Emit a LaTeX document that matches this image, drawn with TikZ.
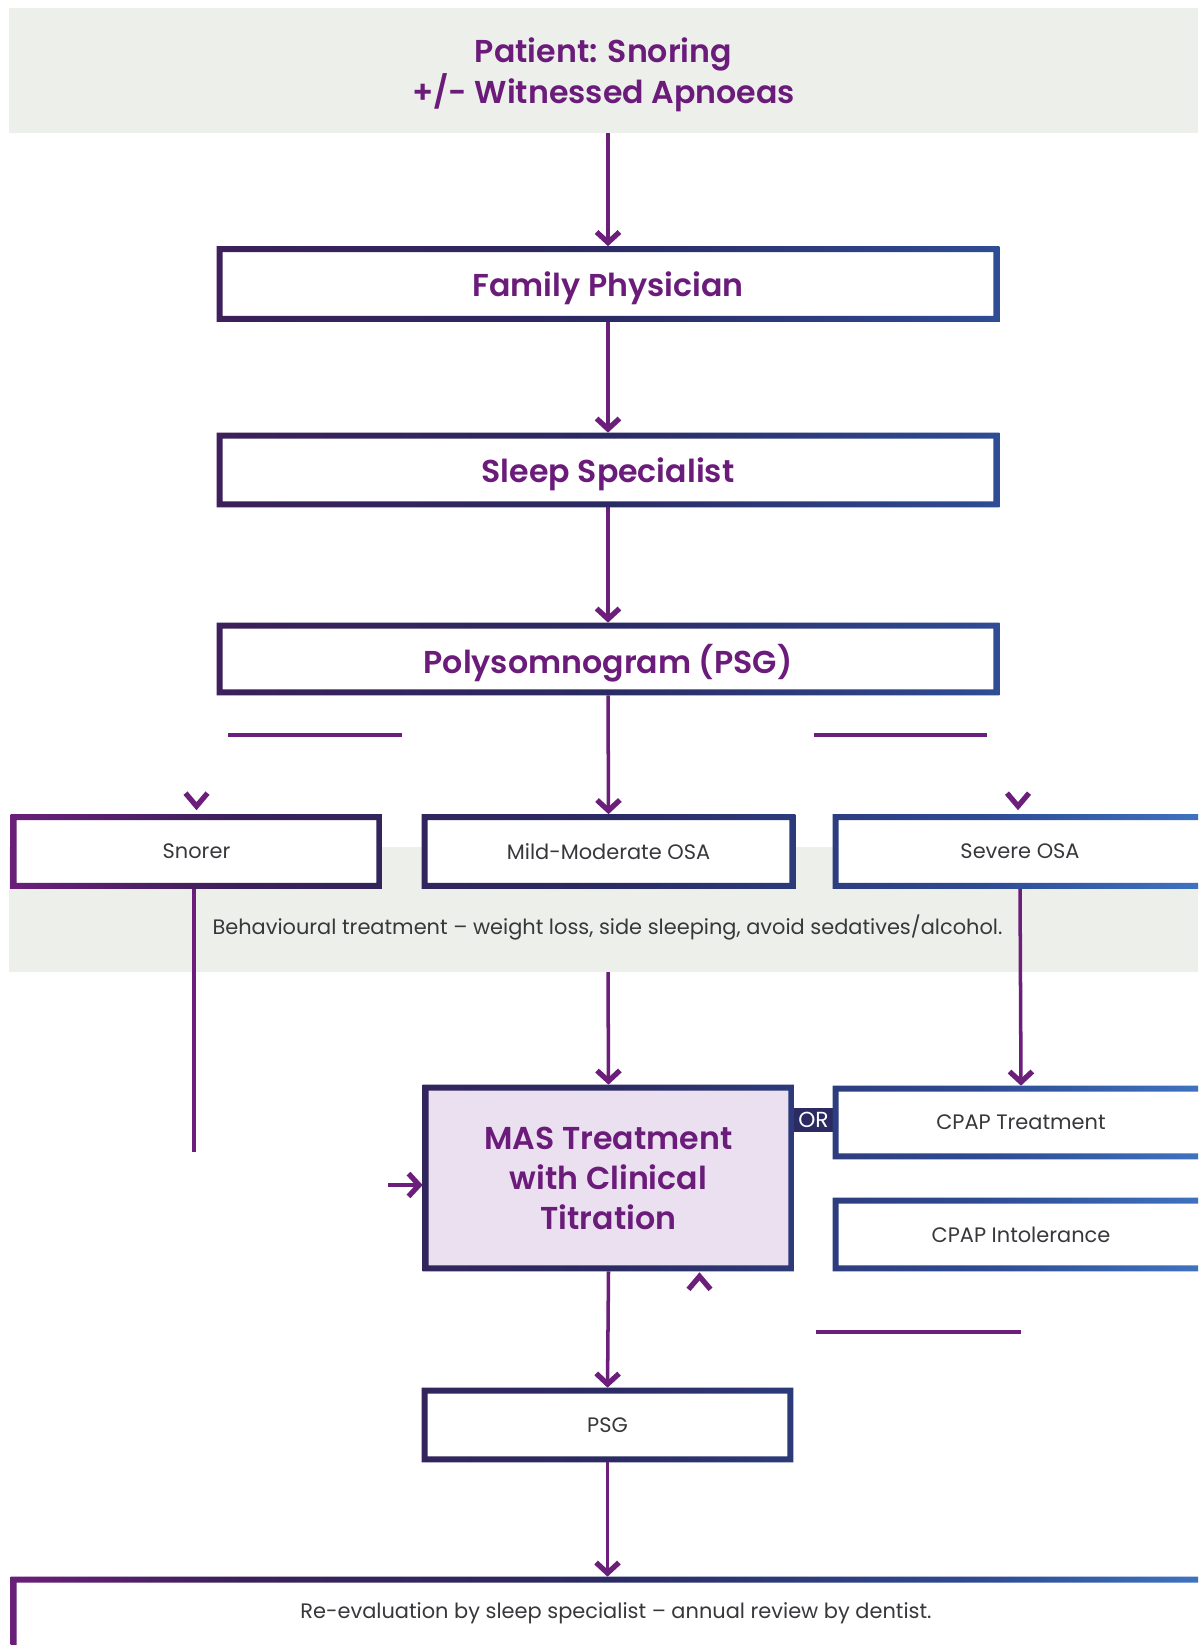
\documentclass[tikz,border=0pt]{standalone}
\usepackage{fontspec}
\setmainfont{Poppins}[BoldFont={Poppins SemiBold}]
\usetikzlibrary{positioning,arrows.meta,calc}
\definecolor{purp}{RGB}{108,31,122}
\definecolor{titlepurp}{RGB}{107,27,122}
\definecolor{darkpurp}{RGB}{58,32,88}
\definecolor{navy}{RGB}{43,42,98}
\definecolor{edgeblue}{RGB}{46,74,146}
\definecolor{lightblue}{RGB}{62,114,192}
\definecolor{bandgray}{RGB}{237,240,234}
\definecolor{masfill}{RGB}{235,224,239}
\definecolor{ink}{RGB}{55,55,60}
\pgfdeclarehorizontalshading{edgeshade}{100bp}{color(0bp)=(purp); color(25bp)=(purp); color(35bp)=(darkpurp); color(50bp)=(navy); color(66bp)=(edgeblue); color(75bp)=(lightblue); color(100bp)=(lightblue)}
\newlength\pxu
\setlength\pxu{0.02cm}

\tikzset{
  stage/.style={fill=white, inner sep=0pt, minimum height=74\pxu, text=ink,
    text depth=0pt, font=\fontsize{11.9}{15}\selectfont},
  bigstage/.style={stage, minimum width=782\pxu, text=titlepurp,
    font=\bfseries\fontsize{18}{22.7}\selectfont},
  smallstage/.style={stage, minimum width=373\pxu},
  arr/.style={draw=purp, line width=2pt,
    -{Straight Barb[length=6pt,width=13pt,line width=3pt]}},
  chev/.style={draw=purp, line width=3pt},
  bar/.style={draw=purp, line width=2.8pt},
  band/.style={fill=bandgray},
}

\begin{document}
\begin{tikzpicture}[x=0.02cm, y=-0.02cm]
  \fill[white] (0,0) rectangle (1198,1645);
  \useasboundingbox (0,0) rectangle (1198,1645);

  % grey bands
  \node[band, inner sep=0pt, minimum width=1189\pxu, minimum height=125\pxu,
    text=titlepurp, align=center, text depth=0pt,
    font=\bfseries\fontsize{18}{23.2}\selectfont]
    (patient) at (603.5,70.5) {Patient: Snoring\\+/- Witnessed Apnoeas};
  \fill[band] (9,847) rectangle (1198,972);
  \node[text=ink, font=\fontsize{11.9}{15}\selectfont] (behav) at (607.5,927)
    {Behavioural treatment – weight loss, side sleeping, avoid sedatives/alcohol.};
  \coordinate (bandbot) at (608,972);

  % main column
  \node[bigstage, minimum height=75\pxu] (fam) at (608,284) {Family Physician};
  \node[bigstage] (slp) at (608,470) {Sleep Specialist};
  \node[bigstage, minimum height=72\pxu] (psg) at (608,659) {Polysomnogram (PSG)};

  \node[smallstage, minimum width=371\pxu] (snorer) at (196.5,851.5) {Snorer};
  \node[smallstage] (mild) at (608.5,851.5) {Mild-Moderate OSA};
  \node[smallstage, minimum width=374\pxu] (severe) at (1020,851.5) {Severe OSA};

  \node[stage, fill=masfill, minimum width=371\pxu, minimum height=186\pxu,
    text=titlepurp, align=center, text depth=-5pt,
    font=\bfseries\fontsize{18}{22.7}\selectfont]
    (mas) at (608.5,1178) {MAS Treatment\\with Clinical\\Titration};
  \node[fill=navy, text=white, inner sep=0pt, minimum width=39\pxu, minimum height=24\pxu,
    font=\fontsize{12.4}{15}\selectfont] (or) at (813.5,1120) {OR};
  \node[smallstage, minimum width=376\pxu, minimum height=73\pxu] (cpapt) at (1021,1122.5) {CPAP Treatment};
  \node[smallstage, minimum width=376\pxu, minimum height=73\pxu] (cpapi) at (1021,1234.5) {CPAP Intolerance};

  \node[smallstage, minimum width=371\pxu] (psgb) at (607.5,1425) {PSG};
  \node[stage, minimum width=1210\pxu, minimum height=76\pxu, text depth=5pt] (reeval) at (616,1615)
    {Re-evaluation by sleep specialist – annual review by dentist.};

  % gradient borders
  \foreach \n in {fam,slp,psg,snorer,mild,severe,mas,cpapt,cpapi,psgb,reeval}{
    \begin{scope}[even odd rule]
      \clip (\n.north west) rectangle (\n.south east)
        ([shift={(6\pxu,-6\pxu)}]\n.north west) rectangle ([shift={(-6\pxu,6\pxu)}]\n.south east);
      \shade[shading=edgeshade] (0,0) rectangle (1198,1645);
    \end{scope}
  }

  % connectors
  \draw[arr] (patient.south -| fam.north) -- (fam.north);
  \draw[arr] (fam.south) -- (slp.north);
  \draw[arr] (slp.south) -- (psg.north);
  \draw[arr] (psg.south) -- (mild.north);
  \draw[arr] (bandbot) -- (mas.north);
  \draw[arr] (severe.south) -- (cpapt.north);
  \draw[arr] (mas.south) -- (psgb.north);
  \draw[arr] (psgb.south) -- (psgb.south |- reeval.north);

  \coordinate (masin) at (388,1185);
  \draw[arr] (masin) -- (masin -| mas.west);
  \coordinate (snorend) at (194,1152);
  \draw[draw=purp, line width=2.2pt] (snorer.south -| snorend) -- (snorend);

  % loose pieces
  \draw[bar] (228,735) -- (402,735);
  \draw[bar] (814,735) -- (987,735);
  \draw[bar] (816,1332) -- (1021,1332);
  \draw[chev] ($(snorer.north)+(-11,-21)$) -- ($(snorer.north)+(0,-8)$) -- ($(snorer.north)+(11,-21)$);
  \draw[chev] ($(severe.north)+(-13,-21)$) -- ($(severe.north)+(-2,-8)$) -- ($(severe.north)+(9,-21)$);
  \draw[chev] ($(mas.south)+(80,18)$) -- ($(mas.south)+(91,5)$) -- ($(mas.south)+(102,18)$);
\end{tikzpicture}
\end{document}
